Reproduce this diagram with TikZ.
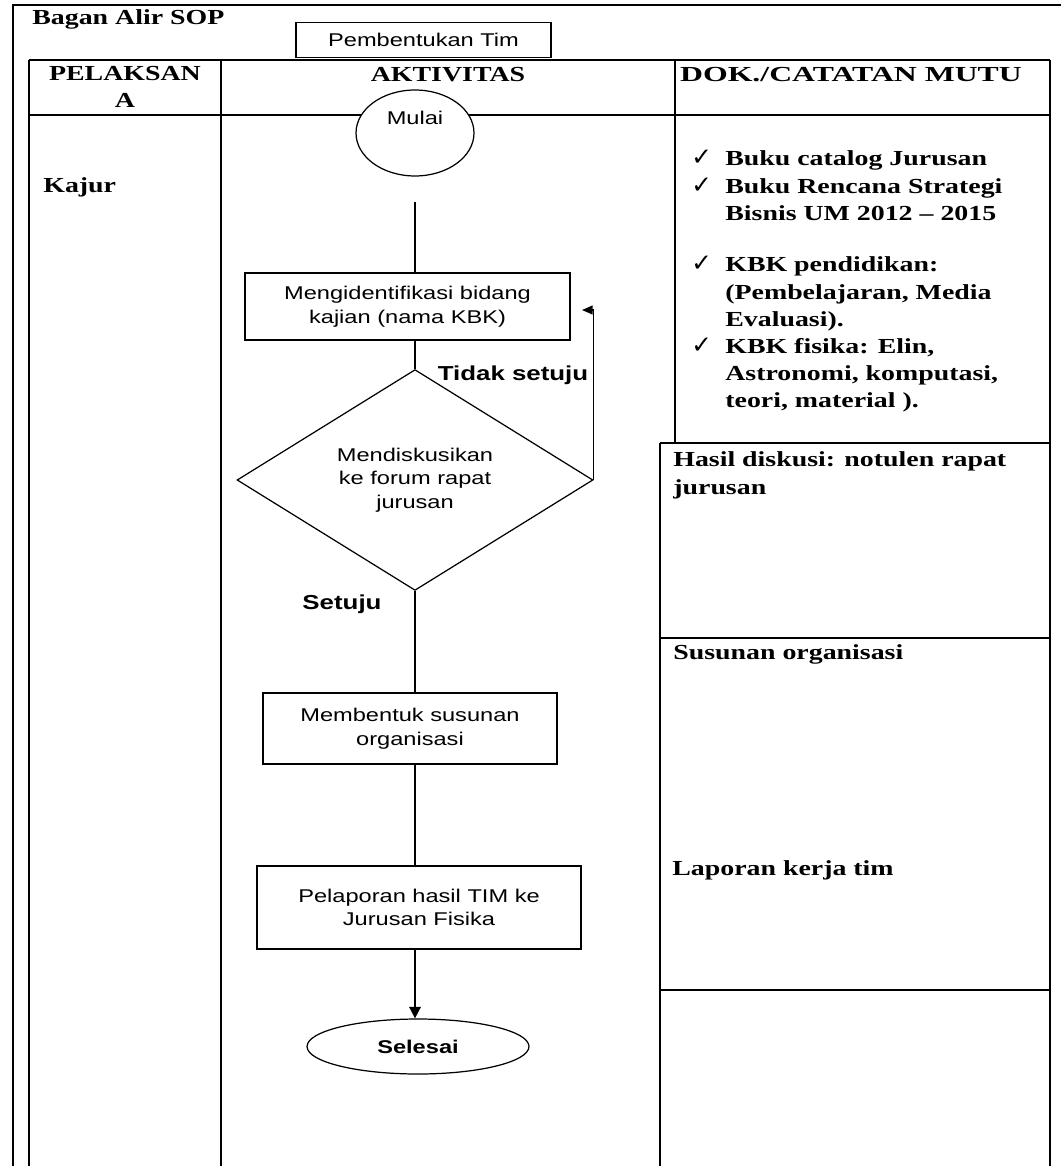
\documentclass[tikz,border=0pt]{standalone}
\usepackage{fontspec}
\setmainfont{Liberation Serif}[FakeStretch=1.3]
\newfontfamily\flowfont{Liberation Sans}[FakeStretch=1.28]
\newfontfamily\tickfont{DejaVu Sans}
\usetikzlibrary{shapes.geometric,arrows.meta}

\tikzset{
  tableline/.style={line width=1pt},
  flowline/.style={line width=0.9pt},
  flowbox/.style={draw,line width=0.9pt,inner sep=0pt,align=center,font=\flowfont\fontsize{10.5}{13.5}\selectfont},
  decbox/.style={draw,diamond,line width=0.7pt,inner sep=0pt,align=center,font=\flowfont\fontsize{10.5}{13.5}\selectfont},
  termnode/.style={draw,ellipse,line width=0.7pt,fill=white,inner sep=0pt,font=\flowfont\bfseries\fontsize{10.5}{13.5}\selectfont},
  flowtxt/.style={font=\flowfont\fontsize{10.5}{13.5}\selectfont},
  choicetxt/.style={font=\flowfont\bfseries\fontsize{11.5}{13.5}\selectfont},
  doctxt/.style={font=\bfseries\fontsize{12.2}{15.5}\selectfont,inner sep=0pt,align=left,anchor=base west},
  ticktxt/.style={font=\tickfont\fontsize{14}{15.5}\selectfont,inner sep=0pt,anchor=base west}
}

\begin{document}
\begin{tikzpicture}[x=0.02cm,y=-0.02cm]
\useasboundingbox (0,0) rectangle (1061,1166);

\draw[tableline](13,1166)--(13,5)--(1061,5) ;
\draw[tableline](29,60)--(1050,60) ;
\draw[tableline](29,115)--(1050,115) ;
\draw[tableline](29,60)--(29,1166) ;
\draw[tableline](221,60)--(221,1166) ;
\draw[tableline](675,60)--(675,443) ;
\draw[tableline](1050,60)--(1050,1166) ;
\draw[tableline](660,443)--(660,1166) ;
\draw[tableline](660,443)--(1050,443) ;
\draw[tableline](660,638)--(1050,638) ;
\draw[tableline](660,990)--(1050,990) ;

\node[doctxt] (judul) at (32,25) {Bagan Alir SOP};
\node[flowbox,minimum width=5.1cm,minimum height=0.7cm] (sop) at (423.5,40) {Pembentukan Tim};

% multi-line nodes sit on the baseline of their last line
\node[doctxt,anchor=base,align=center] (hpel) at (125,108) {PELAKSAN\\A};
\node[doctxt,anchor=base] (hakt) at (448,82) {AKTIVITAS};
\node[doctxt,anchor=base] (hdok) at (851,82) {\scalebox{1.14}[1]{DOK./CATATAN MUTU}};

\node[doctxt] (kajur) at (43,192) {Kajur};

\node[termnode,minimum width=2.36cm,minimum height=1.72cm] (mulai) at (415,133) {};
\node[flowtxt] (mulaitxt) at (415,118) {Mulai};
\coordinate (gap) at (415,202);
\node[flowbox,minimum width=6.5cm,minimum height=1.34cm] (box1) at (407.5,306.5) {Mengidentifikasi bidang\\kajian (nama KBK)};
\node[decbox,minimum width=7.12cm,minimum height=3.24cm] (dec) at (415,480) {Mendiskusikan\\ke forum rapat\\jurusan};
\node[flowbox,minimum width=5.88cm,minimum height=1.42cm] (box2) at (410,728.5) {Membentuk susunan\\organisasi};
\node[flowbox,minimum width=6.48cm,minimum height=1.66cm] (box3) at (419,907.5) {Pelaporan hasil TIM ke\\Jurusan Fisika};
\node[termnode,minimum width=4.44cm,minimum height=1.1cm] (sel) at (418,1046.5) {Selesai};
\coordinate (back) at (582,310);

\draw[flowline](gap)--(gap |- box1.north) ;
\draw[flowline](dec.north |- box1.south)--(dec.north) ;
\draw[flowline](dec.south)--(dec.south |- box2.north) ;
\draw[flowline](dec.south |- box2.south)--(dec.south |- box3.north) ;
\draw[flowline,-{Triangle[length=6.5pt,width=6.5pt]}](dec.south |- box3.south)--(dec.south |- sel.north) ;
\draw[flowline,-{Triangle[length=6pt,width=5pt]}](dec.east) |- (back) ;

\node[choicetxt] (tidak) at (513,375) {Tidak setuju};
\node[choicetxt] (setuju) at (342,604) {Setuju};

\node[ticktxt] (c1) at (691,165) {✓};
\node[doctxt] (d1) at (725,165) {Buku catalog Jurusan};
\node[ticktxt] (c2) at (691,193.3) {✓};
\node[doctxt] (d2) at (725,220.6) {Buku Rencana Strategi\\Bisnis UM 2012 – 2015};
\node[ticktxt] (c3) at (691,271.7) {✓};
\node[doctxt] (d3) at (725,326.3) {KBK pendidikan:\\(Pembelajaran, Media\\Evaluasi).};
\node[ticktxt] (c4) at (691,353.3) {✓};
\node[doctxt] (d4) at (725,407.9) {KBK fisika: Elin,\\Astronomi, komputasi,\\teori, material ).};

\node[doctxt] (hasil) at (673,494) {Hasil diskusi: notulen rapat\\jurusan};
\node[doctxt] (susunan) at (673,659) {Susunan organisasi};
\node[doctxt] (laporan) at (672,875) {Laporan kerja tim};
\end{tikzpicture}
\end{document}
